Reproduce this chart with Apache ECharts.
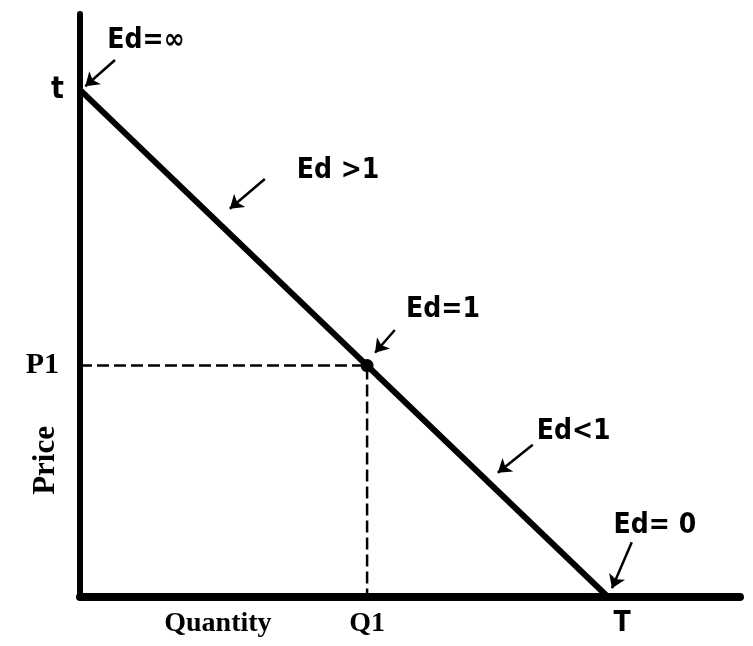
<!DOCTYPE html>
<html>
<head>
<meta charset="utf-8">
<title>Price elasticity along a demand curve</title>
<script src="https://cdn.jsdelivr.net/npm/echarts@6/dist/echarts.min.js"></script>
<style>
    html, body { margin: 0; padding: 0; background: #fff; }
    #chart { width: 753px; height: 646px; }
</style>
</head>
<body>
<div id="chart"></div>
<script>
// demand curve end points (quantity, price)
let demandLine = [[0, 87], [80, 0]];
let q1 = 43.5;
let p1 = 39.7;

// tick labels
let xTickValues = [20.9, 43.5, 80];
let xTickLabels = ['Quantity', 'Q1', 'T'];
let yTickValues = [87, 39.7];
let yTickLabels = ['t', 'P1'];

// elasticity notes: text position and arrow tail -> head
let noteNames = ['Ed=∞', 'Ed >1', 'Ed=1', 'Ed<1', 'Ed= 0'];
let notePos = [[10.0, 95.4], [39.1, 73.2], [55.0, 49.2], [74.8, 28.3], [87.1, 12.2]];
let arrowTail = [[5.3, 92.1], [28.0, 71.7], [47.7, 45.8], [68.6, 26.1], [83.6, 9.4]];
let arrowHead = [[0.8, 87.6], [22.7, 66.6], [44.7, 41.9], [63.3, 21.3], [80.6, 1.5]];

let sansFont = '"DejaVu Sans Condensed", "Liberation Sans Narrow", "DejaVu Sans", sans-serif';
let serifFont = '"Liberation Serif", "DejaVu Serif", serif';

window.onload = function () {
    let chart = echarts.init(document.getElementById('chart'));

    let option = {
        animation: false,
        grid: { left: 80, right: 13, top: 14, bottom: 49 },
        xAxis: {
            type: 'value',
            min: 0,
            max: 100,
            splitLine: { show: false },
            axisTick: { show: false },
            axisLine: { lineStyle: { color: '#000', width: 8 } },
            axisLabel: {
                customValues: xTickValues,
                margin: 13,
                formatter: function (v) {
                    let i = xTickValues.indexOf(v);
                    let s = i >= 0 ? xTickLabels[i] : '';
                    return s === 'T' ? '{t|' + s + '}' : '{s|' + s + '}';
                },
                rich: {
                    s: { fontFamily: serifFont, fontWeight: 'bold', fontSize: 28, color: '#000' },
                    t: { fontFamily: sansFont, fontWeight: 'bold', fontSize: 28, color: '#000', padding: [0, 0, 0, 28] }
                }
            }
        },
        yAxis: {
            type: 'value',
            min: 0,
            max: 100,
            splitLine: { show: false },
            axisTick: { show: false },
            axisLine: { lineStyle: { color: '#000', width: 6 } },
            axisLabel: {
                customValues: yTickValues,
                margin: 16,
                formatter: function (v) {
                    let i = yTickValues.indexOf(v);
                    let s = i >= 0 ? yTickLabels[i] : '';
                    return s === 't' ? '{t|' + s + '}' : '{s|' + s + '}';
                },
                rich: {
                    s: { fontFamily: serifFont, fontWeight: 'bold', fontSize: 30, color: '#000', padding: [0, 5, 0, 0] },
                    t: { fontFamily: sansFont, fontWeight: 'bold', fontSize: 30, color: '#000' }
                }
            }
        },
        graphic: [{
            type: 'text',
            left: 30,
            top: 426,
            rotation: Math.PI / 2,
            originX: 0,
            originY: 0,
            style: {
                text: 'Price',
                fontFamily: serifFont,
                fontWeight: 'bold',
                fontSize: 31,
                fill: '#000'
            }
        }],
        series: [
            {
                type: 'line',
                data: [[0, p1], [q1, p1], [q1, 0]],
                symbol: 'none',
                lineStyle: { color: '#000', width: 2.5, type: [12, 5] },
                z: 2
            },
            {
                type: 'line',
                data: demandLine,
                symbol: 'none',
                lineStyle: { color: '#000', width: 6 },
                z: 3
            },
            {
                type: 'scatter',
                data: [[q1, p1]],
                symbolSize: 13,
                itemStyle: { color: '#000', opacity: 1 },
                z: 4
            },
            {
                type: 'lines',
                coordinateSystem: 'cartesian2d',
                data: arrowTail.map((t, i) => ({ coords: [t, arrowHead[i]] })),
                symbol: ['none', 'arrow'],
                symbolSize: [0, 13],
                lineStyle: { color: '#000', width: 2.5, opacity: 1, curveness: 0 },
                z: 5
            },
            {
                type: 'scatter',
                data: notePos.map((p, i) => ({ value: p, name: noteNames[i] })),
                symbolSize: 0,
                itemStyle: { color: '#000', opacity: 1 },
                label: {
                    show: true,
                    position: 'inside',
                    formatter: '{b}',
                    fontFamily: sansFont,
                    fontWeight: 'bold',
                    fontSize: 28,
                    color: '#000',
                    opacity: 1
                },
                z: 6
            }
        ]
    };
    chart.setOption(option);
}
</script>
</body>
</html>
